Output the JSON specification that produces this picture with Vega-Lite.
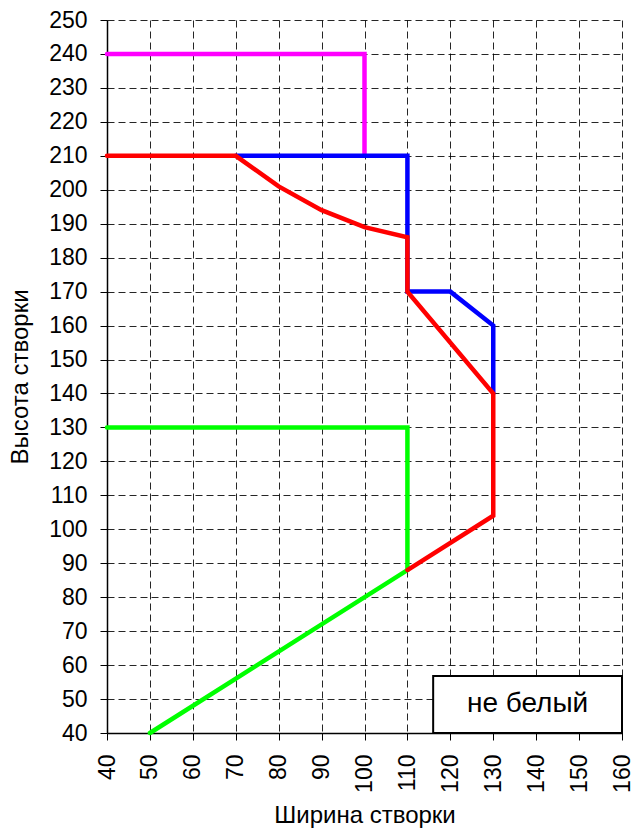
{
  "$schema": "https://vega.github.io/schema/vega-lite/v6.json",
  "autosize": {"type": "none"},
  "padding": {"left": 107, "top": 20, "right": 10, "bottom": 99},
  "width": 515,
  "height": 713,
  "background": "white",
  "config": {
    "view": {"stroke": null},
    "font": "Liberation Sans",
    "axis": {"labelOverlap": false, "labelSeparation": 0}
  },
  "datasets": {
    "lines": [
      {"series": "magenta", "order": 1, "w": 40, "h": 240},
      {"series": "magenta", "order": 2, "w": 100, "h": 240},
      {"series": "magenta", "order": 3, "w": 100, "h": 210},
      {"series": "blue", "order": 1, "w": 70, "h": 210},
      {"series": "blue", "order": 2, "w": 110, "h": 210},
      {"series": "blue", "order": 3, "w": 110, "h": 170},
      {"series": "blue", "order": 4, "w": 120, "h": 170},
      {"series": "blue", "order": 5, "w": 130, "h": 160},
      {"series": "blue", "order": 6, "w": 130, "h": 140},
      {"series": "green", "order": 1, "w": 40, "h": 130},
      {"series": "green", "order": 2, "w": 110, "h": 130},
      {"series": "green", "order": 3, "w": 110, "h": 88},
      {"series": "green", "order": 4, "w": 50, "h": 40},
      {"series": "red", "order": 1, "w": 40, "h": 210},
      {"series": "red", "order": 2, "w": 70, "h": 210},
      {"series": "red", "order": 3, "w": 80, "h": 201},
      {"series": "red", "order": 4, "w": 90, "h": 194},
      {"series": "red", "order": 5, "w": 100, "h": 189},
      {"series": "red", "order": 6, "w": 110, "h": 186},
      {"series": "red", "order": 7, "w": 110, "h": 170},
      {"series": "red", "order": 8, "w": 130, "h": 140},
      {"series": "red", "order": 9, "w": 130, "h": 104},
      {"series": "red", "order": 10, "w": 110, "h": 88}
    ],
    "box": [
      {"w": 116, "w2": 160, "h": 40, "h2": 56.8}
    ],
    "label": [
      {"w": 138, "h": 48.4, "label": "не белый"}
    ]
  },
  "encoding": {
    "x": {
      "field": "w", "type": "quantitative",
      "scale": {"domain": [40, 160], "nice": false, "zero": false},
      "axis": {
        "values": [40, 50, 60, 70, 80, 90, 100, 110, 120, 130, 140, 150, 160],
        "labelAngle": -90, "labelAlign": "right", "labelBaseline": "middle",
        "labelOverlap": false, "labelBound": false, "labelFlush": false,
        "labelFont": "Liberation Sans", "labelFontSize": 23, "labelColor": "black",
        "labelPadding": 14, "tickSize": 7, "tickColor": "black",
        "domainColor": "black", "domainWidth": 1.5,
        "title": "Ширина створки", "titleFont": "Liberation Sans", "titleFontSize": 24,
        "titleFontWeight": "normal", "titleColor": "black", "titlePadding": 11,
        "grid": true, "gridColor": "black", "gridDash": [7, 4], "gridWidth": 1, "gridOpacity": 0.85
      }
    },
    "y": {
      "field": "h", "type": "quantitative",
      "scale": {"domain": [40, 250], "nice": false, "zero": false},
      "axis": {
        "values": [40, 50, 60, 70, 80, 90, 100, 110, 120, 130, 140, 150, 160, 170, 180, 190, 200, 210, 220, 230, 240, 250],
        "labelOverlap": false, "labelBound": false, "labelFlush": false, "labelSeparation": 0,
        "labelFont": "Liberation Sans", "labelFontSize": 23, "labelColor": "black",
        "labelPadding": 13, "tickSize": 7, "tickColor": "black",
        "domainColor": "black", "domainWidth": 1.5,
        "title": "Высота створки", "titleFont": "Liberation Sans", "titleFontSize": 24,
        "titleFontWeight": "normal", "titleColor": "black", "titlePadding": 16,
        "grid": true, "gridColor": "black", "gridDash": [7, 4], "gridWidth": 1, "gridOpacity": 0.85
      }
    }
  },
  "layer": [
    {
      "data": {"name": "lines"},
      "mark": {"type": "line", "strokeWidth": 4.5, "strokeCap": "round", "strokeJoin": "miter"},
      "encoding": {
        "detail": {"field": "series"},
        "order": {"field": "order"},
        "color": {
          "field": "series", "type": "nominal",
          "scale": {"domain": ["magenta", "blue", "green", "red"], "range": ["#FF00FF", "#0000FF", "#00FF00", "#FF0000"]},
          "legend": null
        }
      }
    },
    {
      "data": {"name": "box"},
      "mark": {"type": "rect", "fill": "white", "stroke": "black", "strokeWidth": 2},
      "encoding": {
        "x2": {"field": "w2"},
        "y2": {"field": "h2"}
      }
    },
    {
      "data": {"name": "label"},
      "mark": {"type": "text", "fontSize": 28, "font": "Liberation Sans", "color": "black", "align": "center", "baseline": "middle"},
      "encoding": {
        "text": {"field": "label"}
      }
    }
  ]
}
